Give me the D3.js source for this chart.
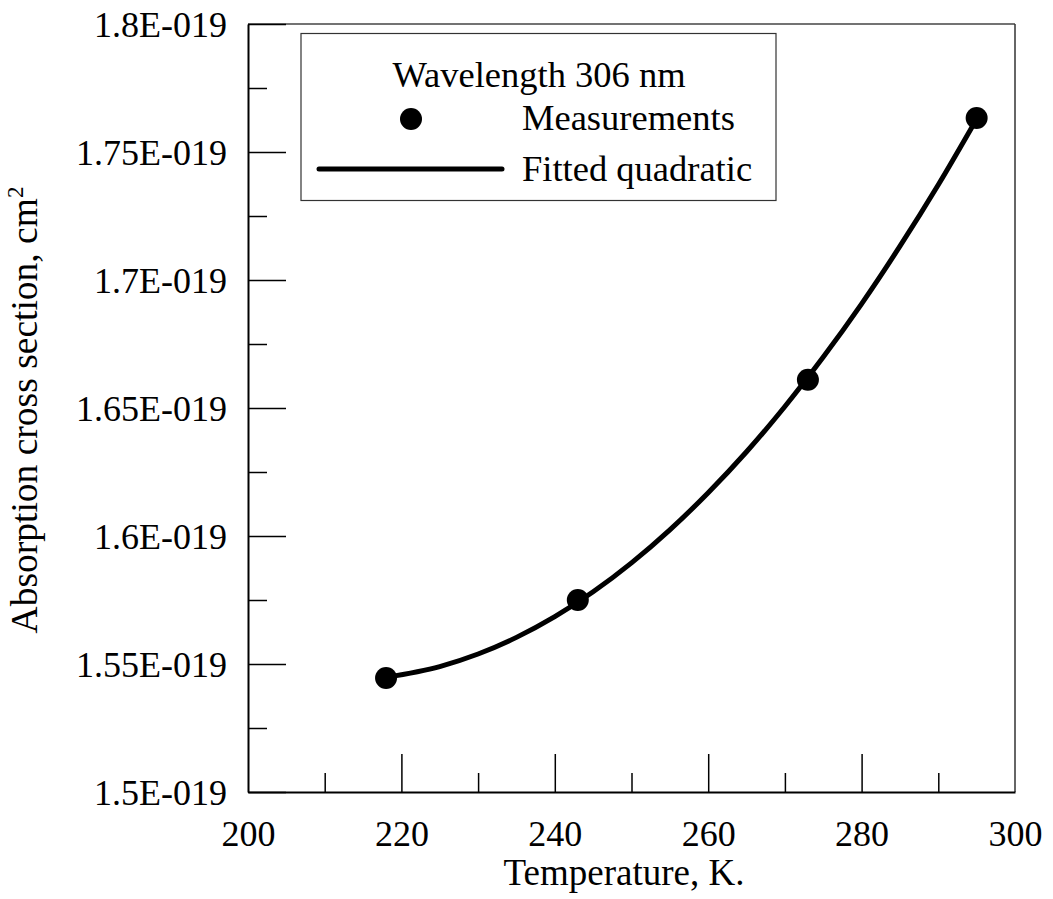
<!DOCTYPE html>
<html>
<head>
<meta charset="utf-8">
<script src="https://cdn.jsdelivr.net/npm/d3@7"></script>
<style>
  html, body { margin: 0; padding: 0; background: #fff; }
  svg { display: block; }
  text { font-family: "Liberation Serif", "Times New Roman", serif; fill: #000; }
</style>
</head>
<body>
<script>
// Data (cross section in units of 1E-019 cm^2)
const measTemps = [218, 243, 273, 295];
const measValues = [1.5445, 1.575, 1.661, 1.7633];
const fitTemps = [218, 225, 230, 235, 240, 245, 250, 255, 260, 265, 270, 275, 280, 285, 290, 295];
const fitValues = [1.5448, 1.5490, 1.5539, 1.5604, 1.5685, 1.5782, 1.5895, 1.6024, 1.6169, 1.6329, 1.6506, 1.6699, 1.6907, 1.7132, 1.7372, 1.7629];
const xTicks = [200, 220, 240, 260, 280, 300];
const xMinorTicks = [210, 230, 250, 270, 290];
const yTicks = [1.5, 1.55, 1.6, 1.65, 1.7, 1.75, 1.8];
const yTickLabels = ["1.5E-019", "1.55E-019", "1.6E-019", "1.65E-019", "1.7E-019", "1.75E-019", "1.8E-019"];
const yMinorTicks = [1.525, 1.575, 1.625, 1.675, 1.725, 1.775];
const legendTitle = "Wavelength 306 nm";
const legendItems = ["Measurements", "Fitted quadratic"];
const xTitle = "Temperature, K.";

const W = 1053, H = 899;
const L = 248, R = 1015, T = 24, B = 792;

const svg = d3.select("body").append("svg").attr("width", W).attr("height", H);

const x = d3.scaleLinear().domain([200, 300]).range([L, R]);
const y = d3.scaleLinear().domain([1.5, 1.8]).range([B, T]);

// frame (top & right)
svg.append("line").attr("x1", L).attr("x2", R).attr("y1", T).attr("y2", T)
  .attr("stroke", "#444").attr("stroke-width", 1.5);
svg.append("line").attr("x1", R).attr("x2", R).attr("y1", T).attr("y2", B)
  .attr("stroke", "#333").attr("stroke-width", 1.5);

// x axis
const xAxis = d3.axisBottom(x).tickValues(xTicks).tickSize(0).tickPadding(30).tickFormat(d3.format("d"));
const gx = svg.append("g").attr("transform", `translate(0,${B})`).call(xAxis);
gx.select(".domain").attr("stroke", "#000").attr("stroke-width", 2);
gx.selectAll("text").attr("font-size", 36).attr("font-family", "Liberation Serif").attr("dy", "0.71em").attr("y", 28);

const xMajorInner = d3.axisTop(x).tickValues(xTicks.filter(d => d > 200 && d < 300)).tickSize(38).tickFormat("");
const gxm = svg.append("g").attr("transform", `translate(0,${B})`).call(xMajorInner);
gxm.select(".domain").remove();
gxm.selectAll("line").attr("stroke", "#000").attr("stroke-width", 1.5);
const xMinorInner = d3.axisTop(x).tickValues(xMinorTicks).tickSize(19).tickFormat("");
const gxn = svg.append("g").attr("transform", `translate(0,${B})`).call(xMinorInner);
gxn.select(".domain").remove();
gxn.selectAll("line").attr("stroke", "#000").attr("stroke-width", 1.5);

// y axis
const yAxis = d3.axisLeft(y).tickValues(yTicks).tickSize(0).tickPadding(21)
  .tickFormat((d, i) => yTickLabels[i]);
const gy = svg.append("g").attr("transform", `translate(${L},0)`).call(yAxis);
gy.select(".domain").attr("stroke", "#000").attr("stroke-width", 2);
gy.selectAll("text").attr("font-size", 36).attr("font-family", "Liberation Serif").attr("dy", "0.34em");

const yMajorInner = d3.axisRight(y).tickValues(yTicks).tickSize(38).tickFormat("");
const gym = svg.append("g").attr("transform", `translate(${L},0)`).call(yMajorInner);
gym.select(".domain").remove();
gym.selectAll("line").attr("stroke", "#000").attr("stroke-width", 1.5);
const yMinorInner = d3.axisRight(y).tickValues(yMinorTicks).tickSize(19).tickFormat("");
const gyn = svg.append("g").attr("transform", `translate(${L},0)`).call(yMinorInner);
gyn.select(".domain").remove();
gyn.selectAll("line").attr("stroke", "#000").attr("stroke-width", 1.5);

// axis titles
svg.append("text").attr("x", 624).attr("y", 885).attr("text-anchor", "middle")
  .attr("font-size", 37).text(xTitle);
const yt = svg.append("text").attr("transform", `translate(37,${(T + B) / 2 + 2}) rotate(-90)`)
  .attr("text-anchor", "middle").attr("font-size", 37.5);
yt.append("tspan").text("Absorption cross section, cm");
yt.append("tspan").attr("font-size", 23).attr("dy", -14).text("2");

// fitted curve
const fitData = fitTemps.map((t, i) => [t, fitValues[i]]);
const line = d3.line().x(d => x(d[0])).y(d => y(d[1])).curve(d3.curveMonotoneX);
svg.append("path").datum(fitData).attr("d", line).attr("fill", "none")
  .attr("stroke", "#000").attr("stroke-width", 5).attr("stroke-linecap", "round");

// measurement points
svg.selectAll("circle.meas").data(measTemps.map((t, i) => [t, measValues[i]]))
  .enter().append("circle").attr("class", "meas")
  .attr("cx", d => x(d[0])).attr("cy", d => y(d[1])).attr("r", 11).attr("fill", "#000");

// legend
const lg = svg.append("g");
lg.append("rect").attr("x", 301).attr("y", 33.5).attr("width", 475).attr("height", 167)
  .attr("fill", "#fff").attr("stroke", "#333").attr("stroke-width", 1.2);
lg.append("text").attr("x", 539).attr("y", 87).attr("text-anchor", "middle")
  .attr("font-size", 36.5).text(legendTitle);
lg.append("circle").attr("cx", 411).attr("cy", 119).attr("r", 11).attr("fill", "#000");
lg.append("text").attr("x", 522).attr("y", 130).attr("font-size", 36.5).text(legendItems[0]);
lg.append("line").attr("x1", 319).attr("x2", 502).attr("y1", 169).attr("y2", 169)
  .attr("stroke", "#000").attr("stroke-width", 5).attr("stroke-linecap", "round");
lg.append("text").attr("x", 522).attr("y", 181).attr("font-size", 36.5).text(legendItems[1]);
</script>
</body>
</html>
